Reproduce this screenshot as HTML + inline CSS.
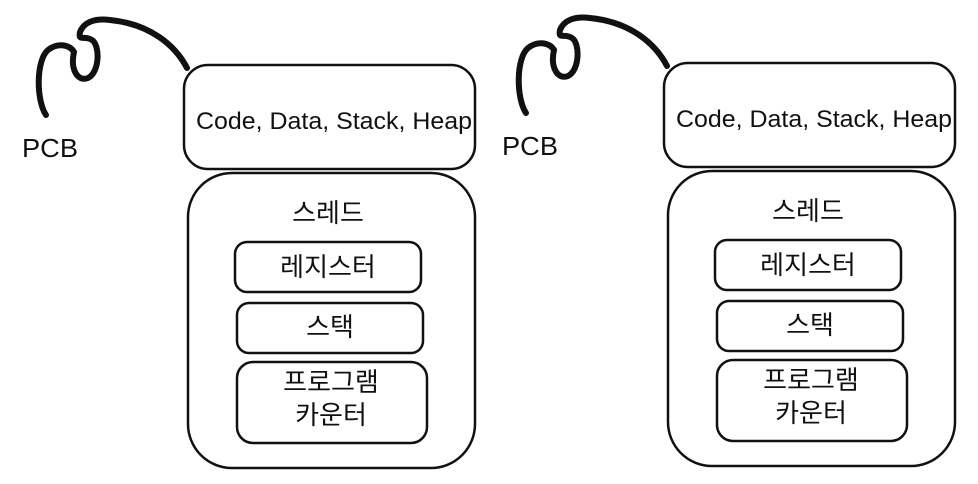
<!DOCTYPE html>
<html><head><meta charset="utf-8"><style>
html,body{margin:0;padding:0;background:#fff;width:978px;height:484px;overflow:hidden}
text{font-family:"Liberation Sans","Noto Sans CJK KR",sans-serif;fill:#111}
</style></head><body>
<svg width="978" height="484" viewBox="0 0 978 484" xmlns="http://www.w3.org/2000/svg">
<defs>
<g id="d">
<path d="M46,115 C36,100 36,60 48,50 C58,42 70,45 74,52 C70,70 78,82 88,78 C100,72 100,45 92,40 C84,35 78,42 80,32 C84,22 95,18 110,20 C150,24 175,45 187,68" fill="none" stroke="#111" stroke-width="6" stroke-linecap="round"/>
<text x="22" y="157" font-size="26" textLength="56" lengthAdjust="spacingAndGlyphs">PCB</text>
<rect x="184" y="65" width="291" height="104" rx="24" fill="none" stroke="#111" stroke-width="2.5"/>
<text x="196" y="129" font-size="24" textLength="276" lengthAdjust="spacingAndGlyphs">Code, Data, Stack, Heap</text>
<rect x="188" y="173" width="287" height="295" rx="44" fill="none" stroke="#111" stroke-width="2.5"/>
<text x="328" y="222" font-size="26" text-anchor="middle">스레드</text>
<rect x="235" y="242" width="186" height="50" rx="12" fill="none" stroke="#111" stroke-width="2.5"/>
<text x="328" y="276" font-size="26" text-anchor="middle">레지스터</text>
<rect x="237" y="303" width="186" height="50" rx="12" fill="none" stroke="#111" stroke-width="2.5"/>
<text x="330" y="336" font-size="26" text-anchor="middle">스택</text>
<rect x="237" y="362" width="190" height="81" rx="16" fill="none" stroke="#111" stroke-width="2.5"/>
<text x="331" y="391" font-size="26" text-anchor="middle">프로그램</text>
<text x="331" y="424" font-size="26" text-anchor="middle">카운터</text>
</g>
</defs>
<use href="#d"/>
<use href="#d" transform="translate(480,-2)"/>
</svg>
</body></html>
